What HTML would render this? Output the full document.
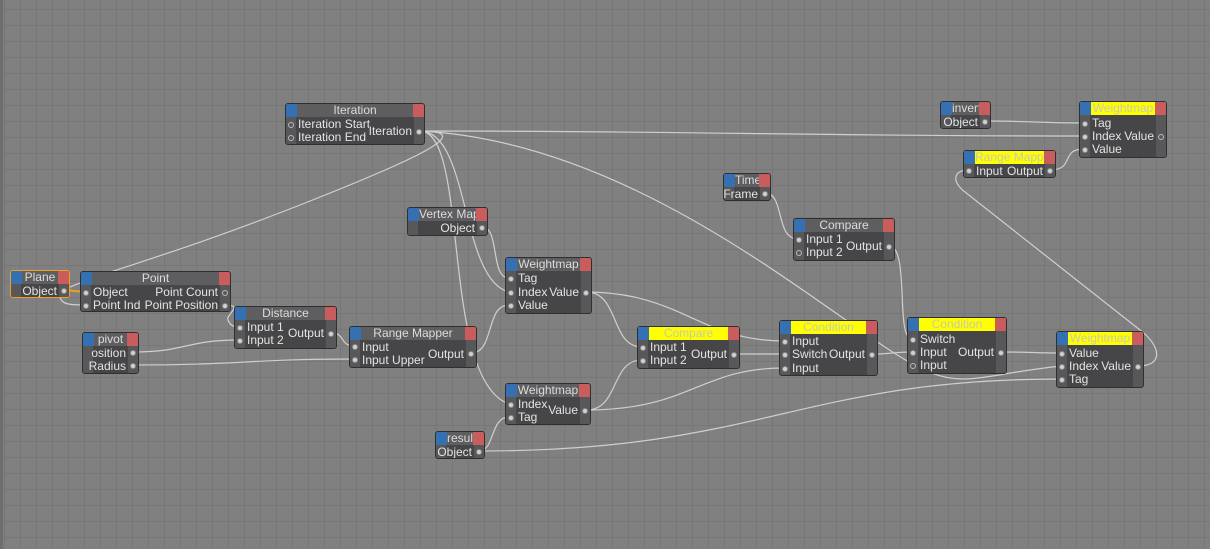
<!DOCTYPE html>
<html><head><meta charset="utf-8"><style>
body{margin:0;width:1210px;height:549px;overflow:hidden;background:#808080;font-family:"Liberation Sans","DejaVu Sans",sans-serif;}
#bg{position:absolute;left:0;top:0;width:1210px;height:549px;
background-image:linear-gradient(to right,#777 1px,transparent 1px),linear-gradient(to bottom,#777 1px,transparent 1px);background-size:16px 16px;background-position:4px 9px;}
#edge{position:absolute;left:0;top:0;width:3px;height:549px;background:#6e6e6e}
svg{position:absolute;left:0;top:0}
.n{position:absolute;background:#464648;border:1px solid #2f2f30;border-radius:3px;box-sizing:border-box;overflow:hidden;font-size:12px;color:#e4e4e4}
.n:before{content:"";position:absolute;left:0;top:13px;bottom:0;width:10px;background:#58585a}
.n:after{content:"";position:absolute;right:0;top:13px;bottom:0;width:10px;background:#58585a}
.h{position:absolute;left:0;right:0;top:0;height:13px;line-height:13px;background:#5e5e60;text-align:center;color:#dcdcdc;border-left:11px solid #3570b3;border-right:11px solid #c95c5c;box-sizing:border-box;white-space:nowrap;overflow:hidden}
.y .h{background:#ffff00;color:#c8c8b8}
.t{position:absolute;line-height:13px;white-space:nowrap;z-index:2}
.r{right:12px}
.p{position:absolute;width:6px;height:6px;border-radius:50%;background:#d0d0d0;border:1px solid #888;box-sizing:border-box;z-index:3}
.o{background:none;border:1px solid #bbb}
.pl{left:2px}.pr{right:2px}
</style></head><body>
<div id="bg"></div><div id="edge"></div>
<svg width="1210" height="549" fill="none" stroke="#cfcfcf" stroke-width="1.2">
<path d="M420 131 C700 131,800 136,1084 136"/>
<path d="M420 131 C470 131,440 150,300 205 S90 275,60 292 C58 305,70 305,85 305"/>
<path d="M420 131 C470 131,460 280,509 292"/>
<path d="M420 131 C470 131,440 380,509 404"/>
<path d="M420 131 C600 140,760 260,860 330 S950 378,1061 366"/>
<path d="M225 305 C245 305,225 315,228 320 C230 326,235 327,239 327"/>
<path d="M133 352 C186 352,186 340,239 340"/>
<path d="M133 365 C240 365,250 359,354 359"/>
<path d="M332 333 C345 333,340 346,354 346"/>
<path d="M471 353 C495 353,485 305,509 305"/>
<path d="M482 227 C500 227,490 278,509 278"/>
<path d="M479 451 C495 451,490 417,509 417"/>
<path d="M479 451 C760 451,800 379,1061 379"/>
<path d="M586 292 C620 292,610 347,642 347"/>
<path d="M586 292 C680 292,700 341,784 341"/>
<path d="M586 410 C620 410,610 360,642 360"/>
<path d="M586 410 C690 410,700 368,784 368"/>
<path d="M734 354 L784 354"/>
<path d="M873 354 C890 354,895 352,912 352"/>
<path d="M765 193 C785 193,775 239,798 239"/>
<path d="M889 246 C910 246,895 339,912 339"/>
<path d="M1002 352 C1030 352,1035 353,1061 353"/>
<path d="M1138 366 C1165 366,1160 345,1140 330 L965 192 C950 180,955 170,968 170"/>
<path d="M1050 170 C1075 170,1060 149,1084 149"/>
<path d="M985 121 C1030 121,1040 123,1084 123"/>
<path d="M64 290 L85 292" stroke="#f0a020" stroke-width="2"/>
</svg>

<div class="n" style="left:285px;top:103px;width:140px;height:42px"><div class="h">Iteration</div>
<i class="p o pl" style="top:18px"></i><span class="t" style="left:12px;top:14px">Iteration Start</span>
<i class="p o pl" style="top:31px"></i><span class="t" style="left:12px;top:27px">Iteration End</span>
<span class="t r" style="top:21px;background:#464648">Iteration</span><i class="p pr" style="top:25px"></i></div>

<div class="n" style="left:10px;top:270px;width:60px;height:28px;border:1px solid #f0a020"><div class="h">Plane</div>
<span class="t r" style="top:14px">Object</span><i class="p pr" style="top:17px"></i></div>

<div class="n" style="left:80px;top:271px;width:151px;height:41px"><div class="h">Point</div>
<i class="p pl" style="top:18px"></i><span class="t" style="left:12px;top:14px">Object</span>
<i class="p pl" style="top:31px"></i><span class="t" style="left:12px;top:27px">Point Ind</span>
<span class="t r" style="top:14px">Point Count</span><i class="p o pr" style="top:18px"></i>
<span class="t r" style="top:27px;background:#464648;padding-left:2px">Point Position</span><i class="p pr" style="top:31px"></i></div>

<div class="n" style="left:234px;top:306px;width:103px;height:43px"><div class="h">Distance</div>
<i class="p pl" style="top:18px"></i><span class="t" style="left:12px;top:14px">Input 1</span>
<i class="p pl" style="top:31px"></i><span class="t" style="left:12px;top:27px">Input 2</span>
<span class="t r" style="top:20px">Output</span><i class="p pr" style="top:24px"></i></div>

<div class="n" style="left:82px;top:332px;width:57px;height:42px"><div class="h">pivot</div>
<span class="t r" style="top:14px">osition</span><i class="p pr" style="top:17px"></i>
<span class="t r" style="top:27px">Radius</span><i class="p pr" style="top:30px"></i></div>

<div class="n" style="left:349px;top:326px;width:128px;height:42px"><div class="h">Range Mapper</div>
<i class="p pl" style="top:17px"></i><span class="t" style="left:12px;top:14px">Input</span>
<i class="p pl" style="top:30px"></i><span class="t" style="left:12px;top:27px">Input Upper</span>
<span class="t r" style="top:21px;background:#464648;padding-left:2px">Output</span><i class="p pr" style="top:24px"></i></div>

<div class="n" style="left:407px;top:207px;width:81px;height:29px"><div class="h">Vertex Map</div>
<span class="t r" style="top:14px">Object</span><i class="p pr" style="top:17px"></i></div>

<div class="n" style="left:505px;top:257px;width:87px;height:57px"><div class="h">Weightmap</div>
<i class="p pl" style="top:18px"></i><span class="t" style="left:12px;top:14px">Tag</span>
<i class="p pl" style="top:32px"></i><span class="t" style="left:12px;top:28px">Index</span>
<i class="p pl" style="top:45px"></i><span class="t" style="left:12px;top:41px">Value</span>
<span class="t r" style="top:28px">Value</span><i class="p pr" style="top:32px"></i></div>

<div class="n" style="left:505px;top:383px;width:86px;height:42px"><div class="h">Weightmap</div>
<i class="p pl" style="top:18px"></i><span class="t" style="left:12px;top:14px">Index</span>
<i class="p pl" style="top:31px"></i><span class="t" style="left:12px;top:27px">Tag</span>
<span class="t r" style="top:20px">Value</span><i class="p pr" style="top:24px"></i></div>

<div class="n" style="left:435px;top:431px;width:50px;height:28px"><div class="h">result</div>
<span class="t r" style="top:14px">Object</span><i class="p pr" style="top:17px"></i></div>

<div class="n y" style="left:637px;top:326px;width:103px;height:43px"><div class="h">Compare</div>
<i class="p pl" style="top:18px"></i><span class="t" style="left:12px;top:14px">Input 1</span>
<i class="p pl" style="top:31px"></i><span class="t" style="left:12px;top:27px">Input 2</span>
<span class="t r" style="top:21px">Output</span><i class="p pr" style="top:25px"></i></div>

<div class="n" style="left:723px;top:173px;width:48px;height:28px"><div class="h">Time</div>
<span class="t r" style="top:14px">Frame</span><i class="p pr" style="top:17px"></i></div>

<div class="n" style="left:793px;top:218px;width:102px;height:43px"><div class="h">Compare</div>
<i class="p pl" style="top:18px"></i><span class="t" style="left:12px;top:14px">Input 1</span>
<i class="p o pl" style="top:31px"></i><span class="t" style="left:12px;top:27px">Input 2</span>
<span class="t r" style="top:21px">Output</span><i class="p pr" style="top:25px"></i></div>

<div class="n y" style="left:779px;top:320px;width:99px;height:56px"><div class="h">Condition</div>
<i class="p pl" style="top:18px"></i><span class="t" style="left:12px;top:14px">Input</span>
<i class="p pl" style="top:31px"></i><span class="t" style="left:12px;top:27px">Switch</span>
<i class="p pl" style="top:45px"></i><span class="t" style="left:12px;top:41px">Input</span>
<span class="t r" style="top:27px">Output</span><i class="p pr" style="top:31px"></i></div>

<div class="n y" style="left:907px;top:317px;width:100px;height:57px"><div class="h">Condition</div>
<i class="p pl" style="top:19px"></i><span class="t" style="left:12px;top:15px">Switch</span>
<i class="p pl" style="top:32px"></i><span class="t" style="left:12px;top:28px">Input</span>
<i class="p o pl" style="top:45px"></i><span class="t" style="left:12px;top:41px">Input</span>
<span class="t r" style="top:28px">Output</span><i class="p pr" style="top:32px"></i></div>

<div class="n y" style="left:1056px;top:331px;width:88px;height:57px"><div class="h">Weightmap</div>
<i class="p pl" style="top:19px"></i><span class="t" style="left:12px;top:15px">Value</span>
<i class="p pl" style="top:32px"></i><span class="t" style="left:12px;top:28px">Index</span>
<i class="p pl" style="top:45px"></i><span class="t" style="left:12px;top:41px">Tag</span>
<span class="t r" style="top:28px">Value</span><i class="p pr" style="top:32px"></i></div>

<div class="n" style="left:940px;top:101px;width:51px;height:28px"><div class="h">invert</div>
<span class="t r" style="top:14px">Object</span><i class="p pr" style="top:17px"></i></div>

<div class="n y" style="left:1079px;top:101px;width:88px;height:57px"><div class="h">Weightmap</div>
<i class="p pl" style="top:19px"></i><span class="t" style="left:12px;top:15px">Tag</span>
<i class="p pl" style="top:32px"></i><span class="t" style="left:12px;top:28px">Index</span>
<i class="p pl" style="top:45px"></i><span class="t" style="left:12px;top:41px">Value</span>
<span class="t r" style="top:28px">Value</span><i class="p o pr" style="top:32px"></i></div>

<div class="n y" style="left:963px;top:150px;width:93px;height:28px"><div class="h">Range Mapper</div>
<i class="p pl" style="top:17px"></i><span class="t" style="left:12px;top:14px">Input</span>
<span class="t r" style="top:14px">Output</span><i class="p pr" style="top:17px"></i></div>
</body></html>
